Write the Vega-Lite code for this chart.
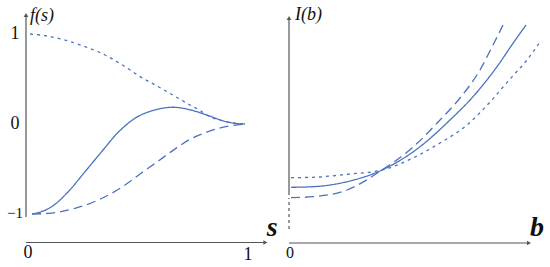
{
  "$schema": "https://vega.github.io/schema/vega-lite/v6.json",
  "padding": 0,
  "spacing": 0,
  "bounds": "flush",
  "config": {"view": {"stroke": null}, "concat": {"spacing": 0}},
  "datasets": {
    "left_curves": [
      {"s": 0.0, "f": 1.0, "curve": "dotted"},
      {"s": 0.07, "f": 0.981, "curve": "dotted"},
      {"s": 0.163, "f": 0.933, "curve": "dotted"},
      {"s": 0.256, "f": 0.859, "curve": "dotted"},
      {"s": 0.349, "f": 0.767, "curve": "dotted"},
      {"s": 0.442, "f": 0.637, "curve": "dotted"},
      {"s": 0.52, "f": 0.515, "curve": "dotted"},
      {"s": 0.589, "f": 0.425, "curve": "dotted"},
      {"s": 0.667, "f": 0.318, "curve": "dotted"},
      {"s": 0.744, "f": 0.211, "curve": "dotted"},
      {"s": 0.791, "f": 0.15, "curve": "dotted"},
      {"s": 0.822, "f": 0.1, "curve": "dotted"},
      {"s": 0.899, "f": 0.033, "curve": "dotted"},
      {"s": 1.0, "f": 0.0, "curve": "dotted"},
      {"s": 0.01, "f": -1.0, "curve": "solid"},
      {"s": 0.101, "f": -0.919, "curve": "solid"},
      {"s": 0.178, "f": -0.752, "curve": "solid"},
      {"s": 0.256, "f": -0.53, "curve": "solid"},
      {"s": 0.333, "f": -0.308, "curve": "solid"},
      {"s": 0.411, "f": -0.09, "curve": "solid"},
      {"s": 0.488, "f": 0.063, "curve": "solid"},
      {"s": 0.581, "f": 0.156, "curve": "solid"},
      {"s": 0.667, "f": 0.186, "curve": "solid"},
      {"s": 0.744, "f": 0.158, "curve": "solid"},
      {"s": 0.822, "f": 0.1, "curve": "solid"},
      {"s": 0.899, "f": 0.035, "curve": "solid"},
      {"s": 0.96, "f": 0.005, "curve": "solid"},
      {"s": 1.0, "f": 0.0, "curve": "solid"},
      {"s": 0.01, "f": -1.0, "curve": "dashed"},
      {"s": 0.101, "f": -0.99, "curve": "dashed"},
      {"s": 0.209, "f": -0.937, "curve": "dashed"},
      {"s": 0.318, "f": -0.844, "curve": "dashed"},
      {"s": 0.442, "f": -0.678, "curve": "dashed"},
      {"s": 0.512, "f": -0.555, "curve": "dashed"},
      {"s": 0.589, "f": -0.425, "curve": "dashed"},
      {"s": 0.667, "f": -0.29, "curve": "dashed"},
      {"s": 0.744, "f": -0.17, "curve": "dashed"},
      {"s": 0.822, "f": -0.09, "curve": "dashed"},
      {"s": 0.899, "f": -0.035, "curve": "dashed"},
      {"s": 1.0, "f": 0.0, "curve": "dashed"}
    ],
    "right_curves": [
      {"b": 0.008, "I": 0.653, "curve": "dotted"},
      {"b": 0.096, "I": 0.657, "curve": "dotted"},
      {"b": 0.232, "I": 0.687, "curve": "dotted"},
      {"b": 0.372, "I": 0.73, "curve": "dotted"},
      {"b": 0.504, "I": 0.86, "curve": "dotted"},
      {"b": 0.604, "I": 1.0, "curve": "dotted"},
      {"b": 0.712, "I": 1.18, "curve": "dotted"},
      {"b": 0.804, "I": 1.41, "curve": "dotted"},
      {"b": 0.884, "I": 1.64, "curve": "dotted"},
      {"b": 0.952, "I": 1.83, "curve": "dotted"},
      {"b": 1.004, "I": 2.01, "curve": "dotted"},
      {"b": 0.008, "I": 0.557, "curve": "solid"},
      {"b": 0.096, "I": 0.563, "curve": "solid"},
      {"b": 0.232, "I": 0.613, "curve": "solid"},
      {"b": 0.372, "I": 0.73, "curve": "solid"},
      {"b": 0.516, "I": 0.947, "curve": "solid"},
      {"b": 0.644, "I": 1.23, "curve": "solid"},
      {"b": 0.736, "I": 1.463, "curve": "solid"},
      {"b": 0.832, "I": 1.763, "curve": "solid"},
      {"b": 0.896, "I": 1.997, "curve": "solid"},
      {"b": 0.948, "I": 2.18, "curve": "solid"},
      {"b": 0.008, "I": 0.453, "curve": "dashed"},
      {"b": 0.096, "I": 0.463, "curve": "dashed"},
      {"b": 0.232, "I": 0.53, "curve": "dashed"},
      {"b": 0.372, "I": 0.73, "curve": "dashed"},
      {"b": 0.492, "I": 0.95, "curve": "dashed"},
      {"b": 0.604, "I": 1.23, "curve": "dashed"},
      {"b": 0.684, "I": 1.45, "curve": "dashed"},
      {"b": 0.764, "I": 1.73, "curve": "dashed"},
      {"b": 0.816, "I": 1.98, "curve": "dashed"},
      {"b": 0.856, "I": 2.18, "curve": "dashed"}
    ]
  },
  "hconcat": [
    {
      "width": 275,
      "height": 267,
      "layer": [
        {
          "data": {"values": [
            {"x": -0.0186, "y": -1.033, "x2": -0.0186, "y2": 1.211},
            {"x": -0.0186, "y": -1.3167, "x2": 1.095, "y2": -1.3167}
          ]},
          "mark": {"type": "rule", "color": "#555555", "strokeWidth": 1.2},
          "encoding": {
            "x": {"field": "x", "type": "quantitative", "scale": {"domain": [-0.13953, 1.13953], "zero": false, "nice": false}, "axis": null},
            "y": {"field": "y", "type": "quantitative", "scale": {"domain": [-1.58889, 1.37778], "zero": false, "nice": false}, "axis": null},
            "x2": {"field": "x2"},
            "y2": {"field": "y2"}
          }
        },
        {
          "data": {"values": [
            {"x": -0.0186, "y": 1.211}
          ]},
          "mark": {"type": "point", "shape": "triangle-up", "filled": true, "color": "#555555", "size": 22, "opacity": 1},
          "encoding": {
            "x": {"field": "x", "type": "quantitative"},
            "y": {"field": "y", "type": "quantitative"}
          }
        },
        {
          "data": {"values": [
            {"x": 1.095, "y": -1.3167}
          ]},
          "mark": {"type": "point", "shape": "triangle-right", "filled": true, "color": "#555555", "size": 22, "opacity": 1},
          "encoding": {
            "x": {"field": "x", "type": "quantitative"},
            "y": {"field": "y", "type": "quantitative"}
          }
        },
        {
          "data": {"name": "left_curves"},
          "mark": {"type": "line", "color": "#4a72c0", "strokeWidth": 1.3, "interpolate": "monotone"},
          "encoding": {
            "x": {"field": "s", "type": "quantitative"},
            "y": {"field": "f", "type": "quantitative"},
            "strokeDash": {"field": "curve", "type": "nominal", "scale": {"domain": ["dotted", "solid", "dashed"], "range": [[3, 4], [1, 0], [9, 5]]}, "legend": null}
          }
        },
        {
          "data": {"values": [
            {"x": -0.0698, "y": 1.0, "text": "1"},
            {"x": -0.0698, "y": 0.0, "text": "0"},
            {"x": -0.0093, "y": -1.433, "text": "0"},
            {"x": 1.014, "y": -1.456, "text": "1"}
          ]},
          "mark": {"type": "text", "font": "Liberation Serif", "fontSize": 18, "color": "#111111", "align": "center", "baseline": "middle"},
          "encoding": {
            "x": {"field": "x", "type": "quantitative"},
            "y": {"field": "y", "type": "quantitative"},
            "text": {"field": "text"}
          }
        },
        {
          "data": {"values": [
            {"x": -0.033, "y": -0.99, "text": "−1"}
          ]},
          "mark": {"type": "text", "font": "Liberation Serif", "fontSize": 15, "color": "#111111", "align": "right", "baseline": "middle"},
          "encoding": {
            "x": {"field": "x", "type": "quantitative"},
            "y": {"field": "y", "type": "quantitative"},
            "text": {"field": "text"}
          }
        },
        {
          "data": {"values": [
            {"x": 0.0, "y": 1.2, "text": "f(s)"}
          ]},
          "mark": {"type": "text", "font": "Liberation Serif", "fontStyle": "italic", "fontSize": 18, "color": "#111111", "align": "left", "baseline": "middle"},
          "encoding": {
            "x": {"field": "x", "type": "quantitative"},
            "y": {"field": "y", "type": "quantitative"},
            "text": {"field": "text"}
          }
        },
        {
          "data": {"values": [
            {"x": 1.126, "y": -1.156, "text": "s"}
          ]},
          "mark": {"type": "text", "font": "Liberation Serif", "fontStyle": "italic", "fontWeight": "bold", "fontSize": 28, "color": "#111111", "align": "center", "baseline": "middle"},
          "encoding": {
            "x": {"field": "x", "type": "quantitative"},
            "y": {"field": "y", "type": "quantitative"},
            "text": {"field": "text"}
          }
        }
      ]
    },
    {
      "width": 275,
      "height": 267,
      "layer": [
        {
          "data": {"values": [
            {"x": 0.0, "y": 0.48, "x2": 0.0, "y2": 2.25},
            {"x": 0.0, "y": 0.0, "x2": 0.96, "y2": 0.0}
          ]},
          "mark": {"type": "rule", "color": "#555555", "strokeWidth": 1.2},
          "encoding": {
            "x": {"field": "x", "type": "quantitative", "scale": {"domain": [-0.056, 1.044], "zero": false, "nice": false}, "axis": null},
            "y": {"field": "y", "type": "quantitative", "scale": {"domain": [-0.24, 2.43], "zero": false, "nice": false}, "axis": null},
            "x2": {"field": "x2"},
            "y2": {"field": "y2"}
          }
        },
        {
          "data": {"values": [
            {"x": 0.0, "y": 0.14, "x2": 0.0, "y2": 0.45}
          ]},
          "mark": {"type": "rule", "color": "#555555", "strokeWidth": 1.2, "strokeDash": [3, 3]},
          "encoding": {
            "x": {"field": "x", "type": "quantitative"},
            "y": {"field": "y", "type": "quantitative"},
            "x2": {"field": "x2"},
            "y2": {"field": "y2"}
          }
        },
        {
          "data": {"values": [
            {"x": 0.0, "y": 2.25}
          ]},
          "mark": {"type": "point", "shape": "triangle-up", "filled": true, "color": "#555555", "size": 22, "opacity": 1},
          "encoding": {
            "x": {"field": "x", "type": "quantitative"},
            "y": {"field": "y", "type": "quantitative"}
          }
        },
        {
          "data": {"values": [
            {"x": 0.96, "y": 0.0}
          ]},
          "mark": {"type": "point", "shape": "triangle-right", "filled": true, "color": "#555555", "size": 22, "opacity": 1},
          "encoding": {
            "x": {"field": "x", "type": "quantitative"},
            "y": {"field": "y", "type": "quantitative"}
          }
        },
        {
          "data": {"name": "right_curves"},
          "mark": {"type": "line", "color": "#4a72c0", "strokeWidth": 1.3, "interpolate": "monotone"},
          "encoding": {
            "x": {"field": "b", "type": "quantitative"},
            "y": {"field": "I", "type": "quantitative"},
            "strokeDash": {"field": "curve", "type": "nominal", "scale": {"domain": ["dotted", "solid", "dashed"], "range": [[3, 4], [1, 0], [9, 5]]}, "legend": null}
          }
        },
        {
          "data": {"values": [
            {"x": 0.004, "y": -0.1, "text": "0"}
          ]},
          "mark": {"type": "text", "font": "Liberation Serif", "fontSize": 16, "color": "#111111", "align": "center", "baseline": "middle"},
          "encoding": {
            "x": {"field": "x", "type": "quantitative"},
            "y": {"field": "y", "type": "quantitative"},
            "text": {"field": "text"}
          }
        },
        {
          "data": {"values": [
            {"x": 0.024, "y": 2.28, "text": "I(b)"}
          ]},
          "mark": {"type": "text", "font": "Liberation Serif", "fontStyle": "italic", "fontSize": 18, "color": "#111111", "align": "left", "baseline": "middle"},
          "encoding": {
            "x": {"field": "x", "type": "quantitative"},
            "y": {"field": "y", "type": "quantitative"},
            "text": {"field": "text"}
          }
        },
        {
          "data": {"values": [
            {"x": 0.992, "y": 0.15, "text": "b"}
          ]},
          "mark": {"type": "text", "font": "Liberation Serif", "fontStyle": "italic", "fontWeight": "bold", "fontSize": 28, "color": "#111111", "align": "center", "baseline": "middle"},
          "encoding": {
            "x": {"field": "x", "type": "quantitative"},
            "y": {"field": "y", "type": "quantitative"},
            "text": {"field": "text"}
          }
        }
      ]
    }
  ]
}
